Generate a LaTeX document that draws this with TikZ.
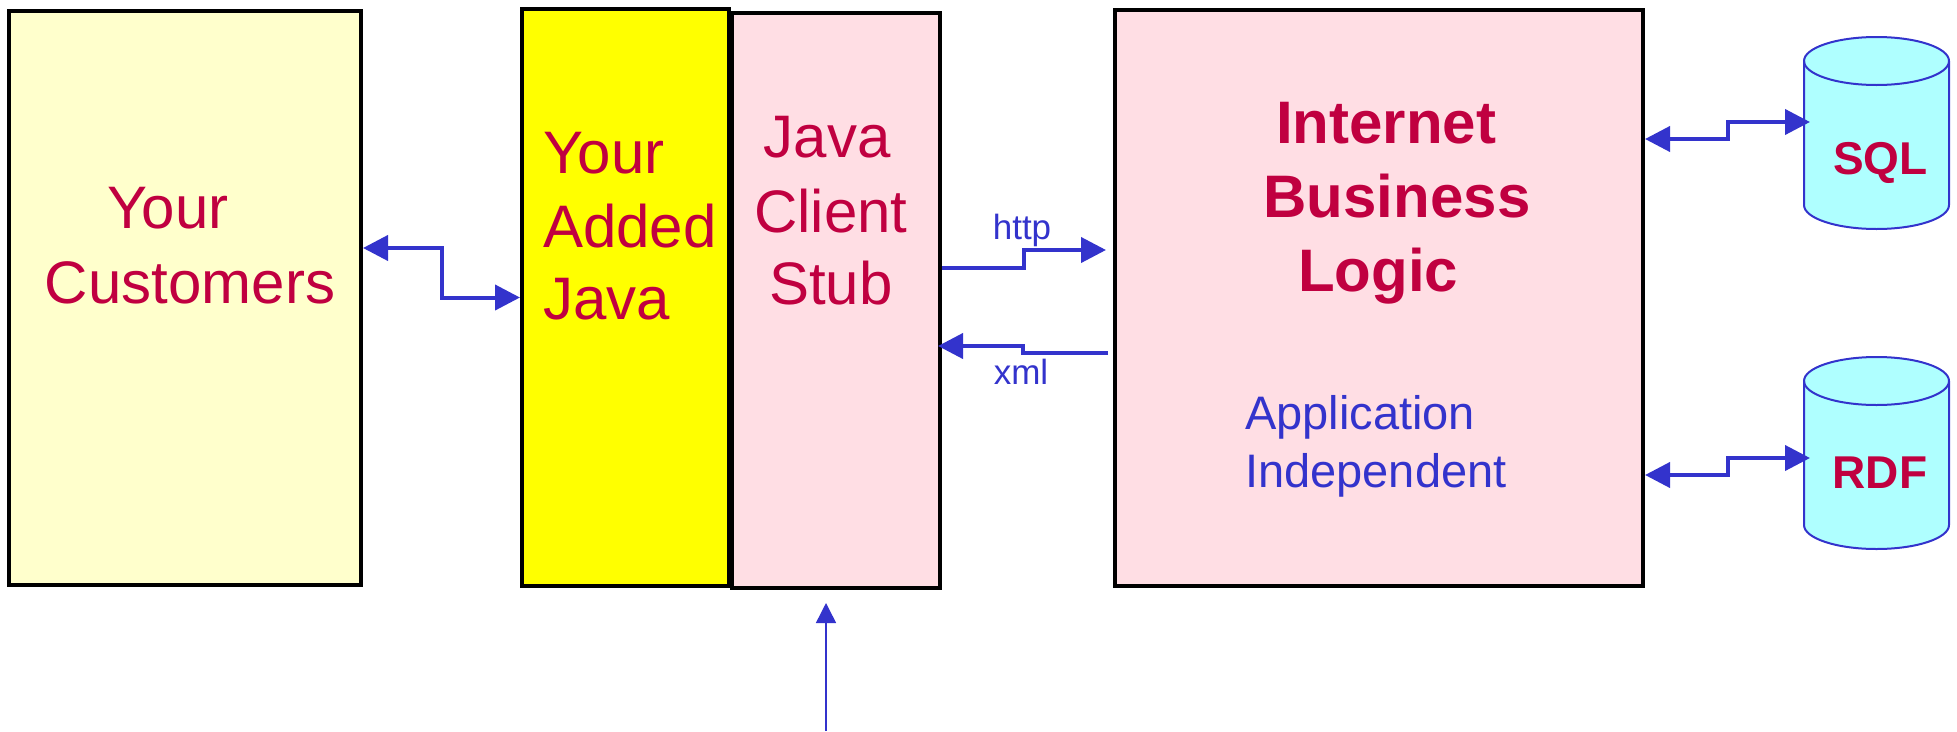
\documentclass[tikz,border=0pt]{standalone}
\usepackage{fontspec}
\setmainfont{Liberation Sans}
\usetikzlibrary{arrows.meta,calc}

\definecolor{crim}{HTML}{C00040}
\definecolor{linkblue}{HTML}{3333CC}
\definecolor{paleyellow}{HTML}{FFFFCC}
\definecolor{brightyellow}{HTML}{FFFF00}
\definecolor{pinkfill}{HTML}{FFDEE4}
\definecolor{dbcyan}{HTML}{AFFFFF}

\begin{document}
\begin{tikzpicture}[x=1pt,y=-1pt,
  panel/.style={draw=black, line width=4pt, inner sep=0pt},
  bigtext/.style={font=\fontsize{60}{72}\selectfont, text=crim, inner sep=0pt, anchor=base},
  boldtext/.style={font=\fontsize{60}{72}\selectfont\bfseries, text=crim, inner sep=0pt, anchor=base},
  notetext/.style={font=\fontsize{47}{56}\selectfont, text=linkblue, inner sep=0pt, anchor=base west},
  wiretext/.style={font=\fontsize{35}{42}\selectfont, text=linkblue, inner sep=0pt, anchor=base},
  dbtext/.style={font=\fontsize{46}{55}\selectfont\bfseries, text=crim, inner sep=0pt, anchor=base},
  dbbody/.style={inner sep=0pt, outer sep=0pt, minimum width=145pt, minimum height=192pt},
  dbshape/.style={draw=linkblue, fill=dbcyan, line width=2pt},
  link/.style={draw=linkblue, line width=4pt,
    {Triangle[length=25pt,width=25pt]}-{Triangle[length=25pt,width=25pt]}},
  oneway/.style={draw=linkblue, line width=4pt, -{Triangle[length=25pt,width=25pt]}},
  feedline/.style={draw=linkblue, line width=1.5pt, -{Triangle[length=20pt,width=20pt]}}]

\useasboundingbox (0,0) rectangle (1957,731);

% main panels
\node[panel, fill=paleyellow, minimum width=352pt, minimum height=574pt] (cust) at (185,298) {};
\node[panel, fill=brightyellow, minimum width=207pt, minimum height=577pt] (added) at (625.5,297.5) {};
\node[panel, fill=pinkfill, minimum width=208pt, minimum height=575pt] (stub) at (836,300) {};
\node[panel, fill=pinkfill, minimum width=528pt, minimum height=576pt] (logic) at (1379,298) {};

% panel texts
\node[bigtext] (cust1) at (168,228) {Your};
\node[bigtext] (cust2) at (190,303) {Customers};
\node[bigtext, anchor=base west] (added1) at (543,173) {Your};
\node[bigtext, anchor=base west] (added2) at (543,247) {Added};
\node[bigtext, anchor=base west] (added3) at (543,319) {Java};
\node[bigtext] (stub1) at (827,157) {Java};
\node[bigtext] (stub2) at (831,232) {Client};
\node[bigtext] (stub3) at (831,304) {Stub};
\node[boldtext] (logic1) at (1386,143) {Internet};
\node[boldtext] (logic2) at (1397,217) {Business};
\node[boldtext] (logic3) at (1378,291) {Logic};
\node[notetext] (note1) at (1245,429) {Application};
\node[notetext] (note2) at (1245,487) {Independent};

% databases
\node[dbbody] (sql) at (1876.5,133) {};
\node[dbbody] (rdf) at (1876.5,453) {};
\foreach \db in {sql,rdf}{
  \filldraw[dbshape] ([yshift=-24pt]\db.north west) -- ([yshift=24pt]\db.south west)
    arc[start angle=180, end angle=360, x radius=72.5pt, y radius=24pt]
    -- ([yshift=-24pt]\db.north east)
    arc[start angle=0, end angle=180, x radius=72.5pt, y radius=24pt] -- cycle;
  \draw[dbshape, fill=none] ([yshift=-24pt]\db.north west)
    arc[start angle=180, end angle=360, x radius=72.5pt, y radius=24pt];
}
\node[dbtext] (sqltext) at (1880.5,174) {SQL};
\node[dbtext] (rdftext) at (1880,488) {RDF};

% connector end points
\coordinate (custout) at ([yshift=50pt]cust.east);
\coordinate (httpout) at ([yshift=32pt]stub.east);
\coordinate (httpin) at ([xshift=-7pt,yshift=48pt]logic.west);
\coordinate (xmlout) at ([xshift=-5pt,yshift=-55pt]logic.west);
\coordinate (xmlin) at ([xshift=-4pt,yshift=-46pt]stub.east);
\coordinate (sqlport) at ([yshift=159pt]logic.east);
\coordinate (sqlin) at ([xshift=6pt,yshift=11pt]sql.west);
\coordinate (rdfport) at ([yshift=-177pt]logic.east);
\coordinate (rdfin) at ([xshift=6pt,yshift=-5pt]rdf.west);
\coordinate (feed) at (826,731);

% connectors
\draw[link] (custout) -| ($(custout)!0.5!(added.west)$) |- (added.west);
\draw[oneway] (httpout) -| ($(httpout)!0.5!(httpin)$) |- (httpin);
\draw[oneway] (xmlout) -| ($(xmlout)!0.5!(xmlin)$) |- (xmlin);
\draw[link] (sqlport) -| ($(sqlport)!0.5!(sqlin)$) |- (sqlin);
\draw[link] (rdfport) -| ($(rdfport)!0.5!(rdfin)$) |- (rdfin);
\draw[feedline] (feed) -- ([xshift=-10pt,yshift=-13.5pt]stub.south);

% connector labels
\node[wiretext] (http) at (1022,239) {http};
\node[wiretext] (xml) at (1021,384) {xml};
\end{tikzpicture}
\end{document}
